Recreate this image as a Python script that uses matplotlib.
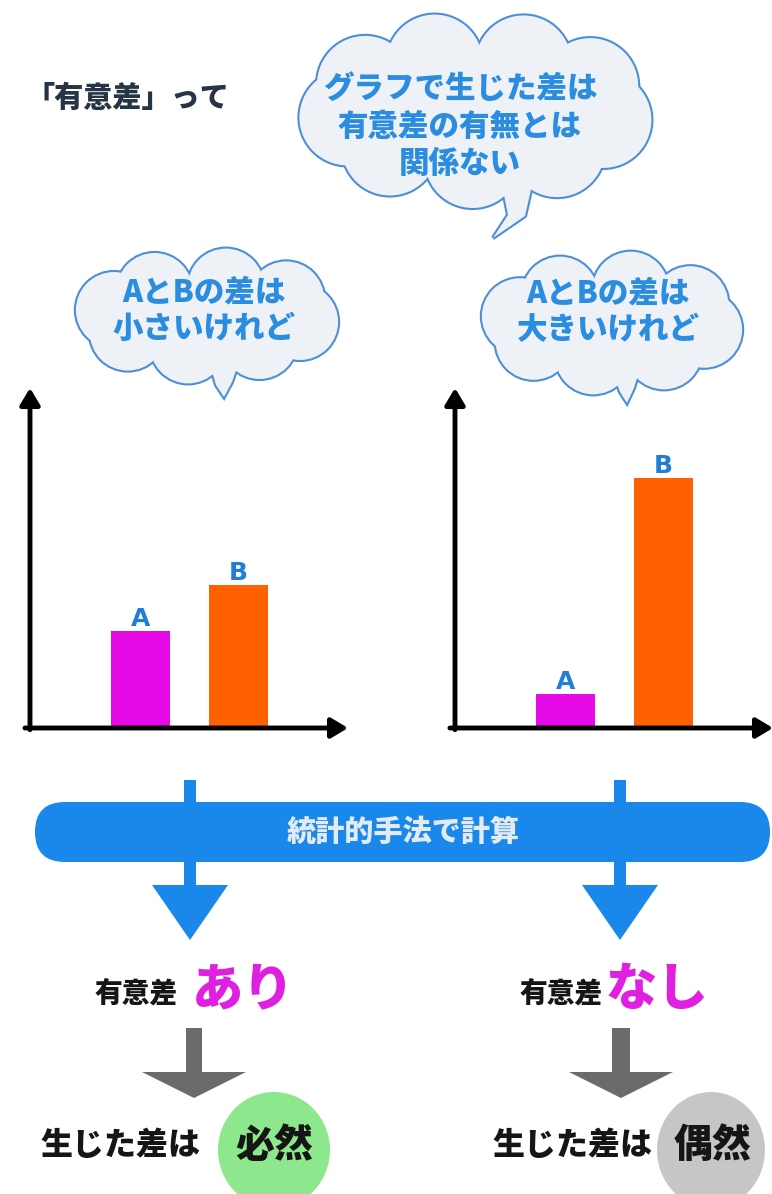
import matplotlib.pyplot as plt
from matplotlib.patches import Circle, Ellipse, Polygon, FancyBboxPatch
import numpy as np

plt.rcParams['font.family'] = ['Noto Sans CJK JP', 'DejaVu Sans']

W, H = 772, 1194

# bar values (height on a 0-100 scale)
categories = ['A', 'B']
small_diff = [28.5, 42]    # AとBの差は小さい -> 有意差あり
large_diff = [10, 73.5]    # AとBの差は大きい -> 有意差なし
bar_colors = ['#e60ae6', '#ff6000']

BLUE = '#2b8de0'
EDGE = '#4d8fd6'
FILL = '#eef1f6'

fig = plt.figure(figsize=(W / 100, H / 100), dpi=100)
bg = fig.add_axes([0, 0, 1, 1])
bg.set_xlim(0, W)
bg.set_ylim(H, 0)
bg.axis('off')


def cloud(cx, cy, hw, hh, n, r, tail):
    # speech bubble: ring of circles + centre ellipse + tail
    ang = np.linspace(0, 2 * np.pi, n, endpoint=False) + 0.2
    shapes = []
    for a in ang:
        shapes.append(((cx + (hw - r) * np.cos(a), cy + (hh - r) * np.sin(a)), r))
    for stroke in (True, False):
        z = 1 if stroke else 2
        kw = dict(fc=FILL, ec=EDGE if stroke else 'none', lw=3 if stroke else 0, zorder=z)
        for c, rr in shapes:
            bg.add_patch(Circle(c, rr, **kw))
        bg.add_patch(Ellipse((cx, cy), 2 * (hw - r), 2 * (hh - r), **kw))
        bg.add_patch(Polygon(tail, closed=True, **kw))


def text_lines(cx, ys, lines, size, color):
    for y, s in zip(ys, lines):
        bg.text(cx, y, s, ha='center', va='center', fontsize=size,
                fontweight='heavy', color=color, zorder=5)


def chart(left, top, right, bottom, values):
    ax = fig.add_axes([left / W, 1 - bottom / H, (right - left) / W, (bottom - top) / H])
    x = np.arange(1, len(values) + 1)
    ax.bar(x, values, width=0.6, color=bar_colors)
    for xi, v, lab in zip(x, values, categories):
        ax.text(xi, v + 1.4, lab, ha='center', va='baseline', fontsize=18,
                fontweight='heavy', color='#1f7fd8', family='DejaVu Sans')
    ax.set_xlim(-0.13, 3.12)
    ax.set_ylim(0, 100)
    ax.axis('off')
    style = dict(arrowstyle='-|>,head_length=0.5,head_width=0.3', lw=3.5,
                 color='black', mutation_scale=20, shrinkA=0, shrinkB=0)
    ax.annotate('', xy=(0, 1), xytext=(0, -0.005), xycoords='axes fraction',
                arrowprops=style, annotation_clip=False)
    ax.annotate('', xy=(1, 0), xytext=(-0.016, 0), xycoords='axes fraction',
                arrowprops=style, annotation_clip=False)


def arrow(c, top, head_top, tip, stem_hw, head_hw, color):
    pts = [(c - stem_hw, top), (c + stem_hw, top), (c + stem_hw, head_top),
           (c + head_hw, head_top), (c, tip), (c - head_hw, head_top),
           (c - stem_hw, head_top)]
    bg.add_patch(Polygon(pts, closed=True, fc=color, ec='none', zorder=3))


# title
bg.text(26, 98, '「有意差」って', ha='left', va='center', fontsize=21,
        fontweight='heavy', color='#253545')

# clouds
cloud(476, 110, 178, 98, 9, 48, [(495, 150), (508, 215), (493, 238), (525, 216), (540, 150)])
text_lines(460, [88, 126, 163], ['グラフで生じた差は', '有意差の有無とは', '関係ない'], 22, BLUE)

cloud(207, 316, 133, 68, 8, 38, [(200, 330), (216, 385), (224, 397), (232, 382), (250, 330)])
text_lines(204, [292, 328], ['AとBの差は', '小さいけれど'], 22, BLUE)

cloud(612, 323, 132, 72, 8, 38, [(600, 335), (620, 392), (627, 403), (634, 388), (650, 335)])
text_lines(608, [293, 330], ['AとBの差は', '大きいけれど'], 22, BLUE)

# bar charts
chart(30, 388, 348, 728, small_diff)
chart(455, 388, 773, 728, large_diff)

# calculation band with blue arrows
arrow(190, 780, 885, 940, 6, 38, '#1a87ea')
arrow(620, 780, 885, 940, 6, 38, '#1a87ea')
bg.add_patch(FancyBboxPatch((35, 802), 735, 60, boxstyle='round,pad=0,rounding_size=30',
                            fc='#1a87ea', ec='none', zorder=4))
bg.text(403, 832, '統計的手法で計算', ha='center', va='center', fontsize=21,
        fontweight='heavy', color='#e2eaf4', zorder=5)

# results
bg.text(178, 993, '有意差', ha='right', va='center', fontsize=20, fontweight='heavy', color='#151515')
bg.text(192, 990, 'あり', ha='left', va='center', fontsize=37, fontweight='heavy', color='#e020e0')
bg.text(603, 993, '有意差', ha='right', va='center', fontsize=20, fontweight='heavy', color='#151515')
bg.text(605, 990, 'なし', ha='left', va='center', fontsize=37, fontweight='heavy', color='#e020e0')

arrow(194, 1028, 1072, 1098, 8, 52, '#6b6b6b')
arrow(621, 1028, 1072, 1098, 9, 52, '#6b6b6b')

bg.add_patch(Ellipse((274, 1150), 112, 116, fc='#8de88d', ec='none', zorder=2))
bg.add_patch(Ellipse((711, 1150), 108, 116, fc='#c6c6c6', ec='none', zorder=2))
bg.text(200, 1145, '生じた差は', ha='right', va='center', fontsize=23, fontweight='heavy', color='#151515')
bg.text(274, 1145, '必然', ha='center', va='center', fontsize=28, fontweight='heavy', color='#151515', zorder=5)
bg.text(652, 1145, '生じた差は', ha='right', va='center', fontsize=23, fontweight='heavy', color='#151515')
bg.text(712, 1145, '偶然', ha='center', va='center', fontsize=28, fontweight='heavy', color='#151515', zorder=5)

fig.savefig('out.png', dpi=100)
